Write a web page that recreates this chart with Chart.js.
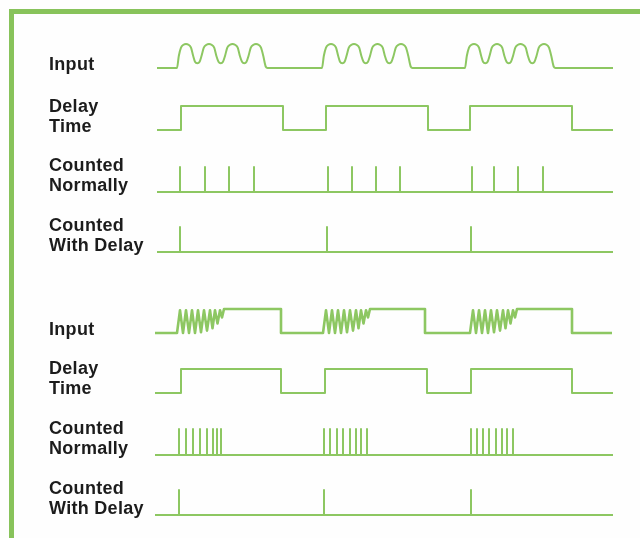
<!DOCTYPE html>
<html>
<head>
<meta charset="utf-8">
<script src="https://cdn.jsdelivr.net/npm/chart.js@4"></script>
<style>
  html, body { margin: 0; padding: 0; background: #fefefe; }
  #wrap { position: relative; width: 640px; height: 538px; overflow: hidden; }
  #frame {
    position: absolute; left: 9px; top: 9px; width: 700px; height: 600px;
    border-top: 5px solid #88c35b; border-left: 5px solid #88c35b;
  }
  canvas { position: absolute; left: 0; top: 0; }
  .lbl {
    position: absolute; left: 49px; color: #1c1c1c;
    font: bold 18px "Liberation Sans", Arial, sans-serif;
    letter-spacing: 0.3px; line-height: 20px; white-space: nowrap;
  }
</style>
</head>
<body>
<div id="wrap">
  <div id="frame"></div>
  <canvas id="c" width="640" height="538"></canvas>
  <div class="lbl" style="top:54px">Input</div>
  <div class="lbl" style="top:96px">Delay<br>Time</div>
  <div class="lbl" style="top:155px">Counted<br>Normally</div>
  <div class="lbl" style="top:215px">Counted<br>With Delay</div>
  <div class="lbl" style="top:319px">Input</div>
  <div class="lbl" style="top:358px">Delay<br>Time</div>
  <div class="lbl" style="top:418px">Counted<br>Normally</div>
  <div class="lbl" style="top:478px">Counted<br>With Delay</div>
</div>
<script>
// time axis: 0 .. 456 (arbitrary time units), levels 0 = low, 1 = high
const traceEnd = 456;

// --- upper panel: clean input ---
// one burst of the input (four rounded humps), [time offset, level]
const inputShape1 = [[0,0],[1.8,0.5],[4,0.85],[6.5,0.97],[9,1],[11.5,0.97],[14,0.85],[16.2,0.5],
  [18,0.26],[20.3,0.2],[22.6,0.26],[24.5,0.5],[26.8,0.85],[29.5,0.97],[32,1],[34.5,0.97],[37.2,0.85],
  [39.4,0.5],[41.5,0.26],[43.8,0.2],[46,0.26],[48,0.5],[50.3,0.85],[53,0.97],[55.5,1],[58,0.97],
  [60.7,0.85],[62.9,0.5],[65,0.26],[67.3,0.2],[69.5,0.26],[71.5,0.5],[73.8,0.85],[76.5,0.97],[79,1],
  [81.5,0.97],[84,0.85],[86.3,0.5],[88.8,0.05],[90.5,0]];
const burstStarts1 = [20, 165, 308];
const delayRise1 = [24, 169, 313];
const delayFall1 = [126, 271, 415];
const countNormal1 = [23, 48, 72, 97, 171, 195, 219, 243, 315, 337, 361, 386];
const countDelay1 = [23, 170, 314];

// --- lower panel: bouncing contact input ---
const bounceShape2 = [[0,0],[3,0.95],[6,0],[9,0.95],[12,0],[15,0.95],[18,0],[21,0.95],[24,0.03],
  [27,0.95],[30,0.1],[33,0.95],[35.5,0.2],[38,0.95],[40.5,0.4],[43,0.95],[45,0.65],[47,1]];
const bounceStarts2 = [20, 166, 313];
const inputFall2 = [124, 268, 415];
const delayRise2 = [24, 168, 314];
const delayFall2 = [124, 270, 415];
const countNormal2 = [22, 29, 36, 43, 50, 56, 60, 64, 167, 173, 180, 186, 193, 199, 204, 210,
  314, 320, 326, 332, 339, 345, 350, 356];
const countDelay2 = [22, 167, 314];

// row layout (vertical axis is a track position, top = 0)
const rows = {
  in1: { base: 68, amp: 24 }, dl1: { base: 130, amp: 24 },
  cn1: { base: 192, amp: 25 }, cd1: { base: 252, amp: 25 },
  in2: { base: 333, amp: 24 }, dl2: { base: 393, amp: 24 },
  cn2: { base: 455, amp: 26 }, cd2: { base: 515, amp: 25 }
};

const green = '#8dc762';

function place(row, pts) {
  return pts.map(([t, v]) => ({ x: t, y: row.base - v * row.amp }));
}
function bursts(shape, starts) {
  const out = [[0, 0]];
  starts.forEach(s => shape.forEach(([o, v]) => out.push([s + o, v])));
  out.push([traceEnd, 0]);
  return out;
}
function gate(rise, fall, start) {
  const out = [[start, 0]];
  rise.forEach((r, i) => { out.push([r, 0], [r, 1], [fall[i], 1], [fall[i], 0]); });
  out.push([traceEnd, 0]);
  return out;
}
function bounce(shape, starts, fall) {
  const out = [[-2, 0]];
  starts.forEach((s, i) => {
    shape.forEach(([o, v]) => out.push([s + o, v]));
    out.push([fall[i], 1], [fall[i], 0]);
  });
  out.push([traceEnd - 1, 0]);
  return out;
}
function pulses(times, start) {
  const out = [[start, 0]];
  times.forEach(t => out.push([t, 0], [t, 1], [t, 0]));
  out.push([traceEnd, 0]);
  return out;
}

function ds(data, extra) {
  return Object.assign({
    data, borderColor: green, borderWidth: 2, pointRadius: 0, tension: 0,
    fill: false, clip: false, borderCapStyle: 'butt', borderJoinStyle: 'round'
  }, extra || {});
}

new Chart(document.getElementById('c'), {
  type: 'line',
  data: {
    datasets: [
      ds(place(rows.in1, bursts(inputShape1, burstStarts1)), { cubicInterpolationMode: 'monotone' }),
      ds(place(rows.dl1, gate(delayRise1, delayFall1, 0))),
      ds(place(rows.cn1, pulses(countNormal1, 0))),
      ds(place(rows.cd1, pulses(countDelay1, 0))),
      ds(place(rows.in2, bounce(bounceShape2, bounceStarts2, inputFall2)), { borderWidth: 2.6 }),
      ds(place(rows.dl2, gate(delayRise2, delayFall2, -2))),
      ds(place(rows.cn2, pulses(countNormal2, -2))),
      ds(place(rows.cd2, pulses(countDelay2, -2)))
    ]
  },
  options: {
    responsive: false, animation: false, parsing: false,
    layout: { padding: { left: 157, right: 27, top: 0, bottom: 0 } },
    plugins: { legend: { display: false }, tooltip: { enabled: false } },
    scales: {
      x: { type: 'linear', min: 0, max: traceEnd, display: false },
      y: { type: 'linear', min: 0, max: 538, reverse: true, display: false }
    }
  }
});
</script>
</body>
</html>
